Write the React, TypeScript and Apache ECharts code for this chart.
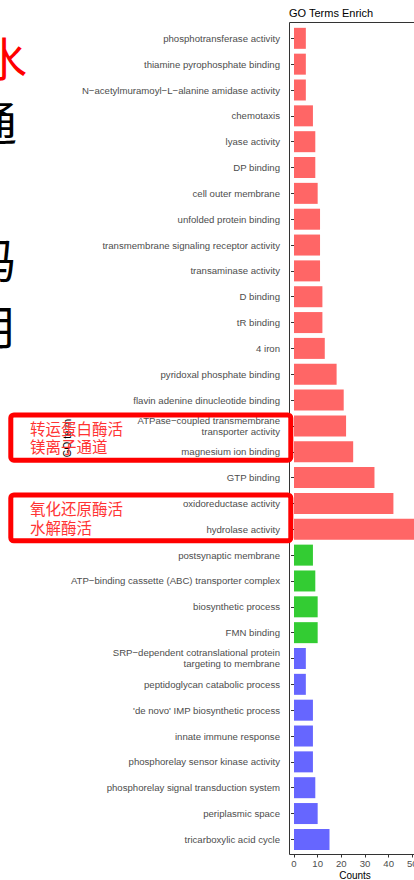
import React, { useEffect, useRef } from "react";
import * as echarts from "echarts";

const categories: string[] = [
  "phosphotransferase activity",
  "thiamine pyrophosphate binding",
  "N−acetylmuramoyl−L−alanine amidase activity",
  "chemotaxis",
  "lyase activity",
  "DP binding",
  "cell outer membrane",
  "unfolded protein binding",
  "transmembrane signaling receptor activity",
  "transaminase activity",
  "D binding",
  "tR binding",
  "4 iron",
  "pyridoxal phosphate binding",
  "flavin adenine dinucleotide binding",
  "ATPase−coupled transmembrane\ntransporter activity",
  "magnesium ion binding",
  "GTP binding",
  "oxidoreductase activity",
  "hydrolase activity",
  "postsynaptic membrane",
  "ATP−binding cassette (ABC) transporter complex",
  "biosynthetic process",
  "FMN binding",
  "SRP−dependent cotranslational protein\ntargeting to membrane",
  "peptidoglycan catabolic process",
  "'de novo' IMP biosynthetic process",
  "innate immune response",
  "phosphorelay sensor kinase activity",
  "phosphorelay signal transduction system",
  "periplasmic space",
  "tricarboxylic acid cycle",
];

const counts: number[] = [
  5, 5, 5, 8, 9, 9, 10, 11, 11, 11, 12, 12, 13, 18, 21, 22, 25, 34, 42, 51,
  8, 9, 10, 10,
  5, 5, 8, 8, 8, 9, 10, 15,
];

const groups: string[] = [
  "g1", "g1", "g1", "g1", "g1", "g1", "g1", "g1", "g1", "g1",
  "g1", "g1", "g1", "g1", "g1", "g1", "g1", "g1", "g1", "g1",
  "g2", "g2", "g2", "g2",
  "g3", "g3", "g3", "g3", "g3", "g3", "g3", "g3",
];

const groupColors: Record<string, string> = {
  g1: "#FF6666",
  g2: "#33CC33",
  g3: "#6666FF",
};

const xTicks = { min: 0, max: 60, interval: 10 };

const chartTitle = "GO Terms Enrich";
const xTitle = "Counts";
const yTitle = "GO term";
const noteBox1 = ["转运蛋白酶活", "镁离子通道"];
const noteBox2 = ["氧化还原酶活", "水解酶活"];
const sideChars = ["水", "通", "码", "用"];

const LATIN = "Liberation Sans, Arial, sans-serif";
const CJK = "Noto Sans CJK SC, sans-serif";

export default function App() {
  const ref = useRef<HTMLDivElement>(null);

  useEffect(() => {
    if (!ref.current) return;
    const chart = echarts.init(ref.current, null, { renderer: "svg" });
    const pxPerUnit = 2.367;
    const gridLeft = 294;
    const gridWidth = xTicks.max * pxPerUnit;

    const option: any = {
      animation: false,
      backgroundColor: "#ffffff",
      grid: {
        left: gridLeft,
        width: gridWidth,
        top: 25.4,
        height: 826.9,
        containLabel: false,
        outerBoundsMode: "none",
      },
      xAxis: {
        type: "value",
        min: xTicks.min,
        max: xTicks.max,
        interval: xTicks.interval,
        offset: 2.2,
        axisLine: { show: false },
        axisTick: { show: true, length: 3, lineStyle: { color: "#333333", width: 1 } },
        axisLabel: { fontSize: 9.6, color: "#4D4D4D", margin: 3.8, fontFamily: LATIN },
        splitLine: { show: false },
      },
      yAxis: {
        type: "category",
        inverse: true,
        data: categories,
        offset: 5,
        axisLine: { show: false },
        axisTick: {
          show: true,
          alignWithLabel: true,
          interval: 0,
          length: 3,
          lineStyle: { color: "#333333", width: 1 },
        },
        axisLabel: {
          interval: 0,
          fontSize: 9.6,
          lineHeight: 11,
          color: "#4D4D4D",
          margin: 9,
          fontFamily: LATIN,
          align: "right",
        },
      },
      series: [
        {
          type: "bar",
          barWidth: 21,
          data: counts.map((v, i) => ({
            value: v,
            itemStyle: { color: groupColors[groups[i]] },
          })),
        },
      ],
      graphic: [
        {
          type: "rect",
          z: 50,
          shape: { x: 289.5, y: 22.5, width: 300, height: 832 },
          style: { fill: "none", stroke: "#333333", lineWidth: 1 },
        },
        {
          type: "text",
          x: 289,
          y: 12.5,
          style: {
            text: chartTitle,
            fill: "#000000",
            font: `11px ${LATIN}`,
            textAlign: "left",
            verticalAlign: "middle",
          },
        },
        {
          type: "text",
          x: 355,
          y: 875,
          style: {
            text: xTitle,
            fill: "#000000",
            font: `10px ${LATIN}`,
            textAlign: "center",
            verticalAlign: "middle",
          },
        },
        {
          type: "text",
          x: 67,
          y: 438,
          rotation: Math.PI / 2,
          z: 60,
          style: {
            text: yTitle,
            fill: "#000000",
            font: `10px ${LATIN}`,
            textAlign: "center",
            verticalAlign: "middle",
          },
        },
        {
          type: "text",
          x: -19,
          y: 56,
          style: { text: sideChars[0], fill: "#FF0000", font: `46px ${CJK}`, textAlign: "left", verticalAlign: "middle" },
        },
        {
          type: "text",
          x: -30,
          y: 120,
          style: { text: sideChars[1], fill: "#000000", font: `47px ${CJK}`, textAlign: "left", verticalAlign: "middle" },
        },
        {
          type: "text",
          x: -31,
          y: 257,
          style: { text: sideChars[2], fill: "#000000", font: `47px ${CJK}`, textAlign: "left", verticalAlign: "middle" },
        },
        {
          type: "text",
          x: -31,
          y: 323,
          style: { text: sideChars[3], fill: "#000000", font: `47px ${CJK}`, textAlign: "left", verticalAlign: "middle" },
        },
        {
          type: "rect",
          z: 100,
          shape: { x: 10.8, y: 415, width: 280, height: 45.2, r: 3 },
          style: { fill: "none", stroke: "#FF0000", lineWidth: 5 },
        },
        {
          type: "rect",
          z: 100,
          shape: { x: 10.8, y: 495, width: 280, height: 45.8, r: 3 },
          style: { fill: "none", stroke: "#FF0000", lineWidth: 5 },
        },
        {
          type: "text",
          x: 30,
          y: 427.8,
          z: 70,
          style: { text: noteBox1[0], fill: "#FF3333", font: `15.5px ${CJK}`, textAlign: "left", verticalAlign: "middle" },
        },
        {
          type: "text",
          x: 30,
          y: 446.3,
          z: 70,
          style: { text: noteBox1[1], fill: "#FF3333", font: `15.5px ${CJK}`, textAlign: "left", verticalAlign: "middle" },
        },
        {
          type: "text",
          x: 30,
          y: 508.3,
          z: 70,
          style: { text: noteBox2[0], fill: "#FF3333", font: `15.5px ${CJK}`, textAlign: "left", verticalAlign: "middle" },
        },
        {
          type: "text",
          x: 30,
          y: 527.3,
          z: 70,
          style: { text: noteBox2[1], fill: "#FF3333", font: `15.5px ${CJK}`, textAlign: "left", verticalAlign: "middle" },
        },
      ],
    };

    chart.setOption(option);
    return () => chart.dispose();
  }, []);

  return (
    <div
      style={{
        position: "fixed",
        left: 0,
        top: 0,
        width: 414,
        height: 880,
        overflow: "hidden",
        background: "#ffffff",
      }}
    >
      <div ref={ref} style={{ width: 414, height: 880 }} />
    </div>
  );
}
